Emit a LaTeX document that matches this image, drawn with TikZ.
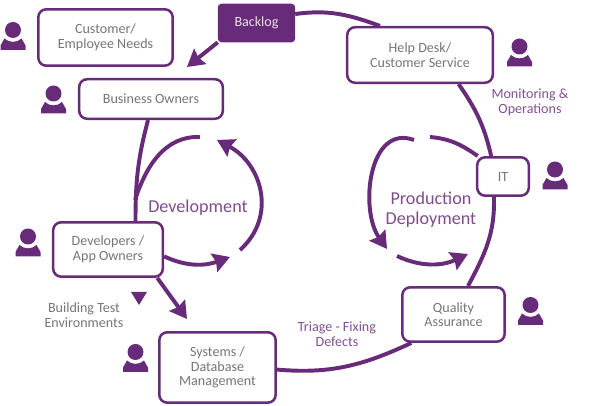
\documentclass[tikz,border=0pt]{standalone}
\usepackage{fontspec}
\setmainfont{Carlito}
\usepackage{xcolor}
\usetikzlibrary{arrows.meta, backgrounds}
\definecolor{opspurple}{RGB}{104,43,122}
\definecolor{labelpurple}{RGB}{130,80,145}
\definecolor{boxgray}{RGB}{118,118,118}

\begin{document}
\begin{tikzpicture}[
    x=0.025cm, y=0.025cm,
    stagebox/.style={rectangle, draw=opspurple, line width=1.8pt, fill=white, rounded corners=0.2cm, align=center, text=boxgray, font=\fontsize{10}{10.4}\selectfont, inner sep=0pt},
    backlogbox/.style={stagebox, fill=opspurple, line width=1pt, rounded corners=0.08cm, text=white!85!opspurple},
    note/.style={align=center, text=boxgray, font=\fontsize{10}{10.4}\selectfont},
    phasenote/.style={align=center, text=labelpurple, font=\fontsize{10}{10.4}\selectfont},
    phasetitle/.style={align=center, text=opspurple!85!white, font=\fontsize{12.9}{14.2}\selectfont},
    flow/.style={draw=opspurple, line width=2.8pt},
    flowarrow/.style={flow, -{Stealth[length=0.42cm, width=0.48cm, inset=0.05cm]}},
    person/.pic={
        \fill[opspurple] (0,6.5) circle (8);
        \fill[opspurple] (-12.5,-13.5) -- (-12.5,-9) -- (-8.5,-2) .. controls (-4,-6.5) and (4,-6.5) .. (8.5,-2) -- (12.5,-9) -- (12.5,-13.5) -- cycle;
    },
]
\useasboundingbox (0,0) rectangle (595,406);

% stages
\node[stagebox, minimum width=3.36cm, minimum height=1.41cm] (needs) at (105.5,368.5) {Customer/\\Employee Needs};
\node[backlogbox, minimum width=1.9cm, minimum height=0.93cm] (backlog) at (256.5,383) {Backlog};
\node[stagebox, minimum width=3.59cm, minimum height=0.99cm] (owners) at (151,307) {Business Owners};
\node[stagebox, minimum width=3.64cm, minimum height=1.39cm] (help) at (420,351) {Help Desk/\\Customer Service};
\node[stagebox, minimum width=1.29cm, minimum height=0.96cm] (it) at (503,229.5) {IT};
\node[stagebox, minimum width=2.74cm, minimum height=1.36cm] (dev) at (108,156.5) {Developers /\\App Owners};
\node[stagebox, minimum width=2.91cm, minimum height=1.76cm] (sys) at (217.5,38.5) {Systems /\\Database\\Management};
\node[stagebox, minimum width=2.56cm, minimum height=1.36cm] (qa) at (453.5,91.5) {Quality\\Assurance};

% labels
\node[phasetitle] (devtitle) at (198,198) {Development};
\node[phasetitle] (prodtitle) at (431,196) {Production\\Deployment};
\node[phasenote] (monitoring) at (530,303.5) {Monitoring \&\\Operations};
\node[phasenote] (triage) at (337,72) {Triage - Fixing\\Defects};
\node[note] (building) at (84,91) {Building Test\\Environments};
\fill[opspurple] (131,114) -- (147,114) -- (139,101) -- cycle;

% people
\pic at (13,369.5) {person};
\pic at (53.5,306) {person};
\pic at (519.5,353) {person};
\pic at (555,230) {person};
\pic at (28,163) {person};
\pic at (135.5,47.5) {person};
\pic at (530.5,94.5) {person};

% free ends of the cycles
\coordinate (backlogtip) at (187,339);
\coordinate (systip) at (187,87);
\coordinate (devtop) at (200,269);
\coordinate (devmerge) at (135,206);
\coordinate (devright) at (240,156);
\coordinate (devtoptip) at (217,266);
\coordinate (devlowtip) at (230,149);
\coordinate (prodtop) at (430,269);
\coordinate (prodleft) at (414,266);
\coordinate (prodlefttip) at (387,157);
\coordinate (prodlow) at (397,150);
\coordinate (prodlowtip) at (468,152);

\begin{scope}[on background layer]
\draw[flow] (backlog.13) to[out=8, in=160] (help.144);
\draw[flow] (help.-37) to[out=-55, in=103] (it.120);
\draw[flow] (it.-114) to[out=-88, in=62] (qa.63);
\draw[flow] (qa.214.5) to[out=205, in=-5] (sys.-2);
\draw[flow] (owners.262) to[out=255, in=90] (dev.46.5);
\draw[flowarrow] (backlog.south west) -- (backlogtip);
\draw[flowarrow] (dev.-30) -- (systip);
\draw[flow] (devtop) to[out=178, in=72] (devmerge);
\draw[flowarrow] (devright) to[out=42, in=-28, looseness=1.15] (devtoptip);
\draw[flowarrow] (dev.-7.6) to[out=-25, in=200] (devlowtip);
\draw[flow] (prodtop) to[out=-5, in=145] (it.141);
\draw[flowarrow] (prodleft) to[out=160, in=125, looseness=1.1] (prodlefttip);
\draw[flowarrow] (prodlow) to[out=-25, in=205] (prodlowtip);
\end{scope}
\end{tikzpicture}
\end{document}
